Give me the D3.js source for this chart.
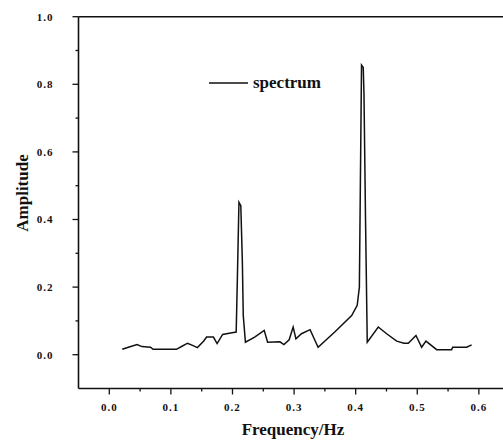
<!DOCTYPE html>
<html>
<head>
<meta charset="utf-8">
<script src="https://cdn.jsdelivr.net/npm/d3@7"></script>
<style>
  body { margin: 0; background: #fff; }
  text { font-family: "Liberation Serif", "DejaVu Serif", serif; font-weight: bold; fill: #111; }
</style>
</head>
<body>
<svg id="chart" width="503" height="448"></svg>
<script>
// spectrum trace
var freq = [0.021, 0.031, 0.045, 0.053, 0.067, 0.071, 0.109, 0.118, 0.127, 0.136, 0.143, 0.153, 0.158, 0.169, 0.175, 0.184, 0.197, 0.206,
  0.208, 0.2105, 0.2135, 0.216, 0.2175, 0.221, 0.236, 0.2515, 0.257, 0.277, 0.2835, 0.292, 0.2985, 0.303, 0.312, 0.326, 0.331, 0.339,
  0.366, 0.3935, 0.4025, 0.406, 0.4095, 0.4123, 0.4135, 0.416, 0.4188, 0.4367, 0.4503, 0.4666, 0.4784, 0.4854, 0.4979, 0.5071, 0.5141,
  0.5315, 0.5558, 0.5575, 0.5802, 0.5883];
var amp = [0.016, 0.022, 0.030, 0.024, 0.022, 0.016, 0.016, 0.025, 0.034, 0.027, 0.021, 0.040, 0.052, 0.052, 0.033, 0.060, 0.064, 0.067,
  0.230, 0.451, 0.441, 0.278, 0.116, 0.037, 0.052, 0.072, 0.037, 0.038, 0.030, 0.044, 0.082, 0.047, 0.062, 0.074, 0.054, 0.022,
  0.067, 0.116, 0.146, 0.200, 0.857, 0.850, 0.770, 0.400, 0.037, 0.082, 0.062, 0.040, 0.034, 0.034, 0.057, 0.022, 0.040,
  0.015, 0.015, 0.022, 0.022, 0.029];
var xTicks = [0.0, 0.1, 0.2, 0.3, 0.4, 0.5, 0.6];
var yTicks = [0.0, 0.2, 0.4, 0.6, 0.8, 1.0];
var seriesName = "spectrum";

var svg = d3.select("#chart");
var m = {left: 78.5, right: 503.5, top: 16.7, bottom: 388.5};

var x = d3.scaleLinear().domain([-0.05, 0.64]).range([m.left, m.right]);
var y = d3.scaleLinear().domain([-0.1, 1.0]).range([m.bottom, m.top]);

// frame: top line, bottom and left axes
svg.append("line").attr("x1", m.left).attr("x2", m.right).attr("y1", m.top).attr("y2", m.top)
  .attr("stroke", "#111").attr("stroke-width", 1.6);

var gX = svg.append("g").attr("transform", "translate(0," + m.bottom + ")");
gX.append("line").attr("x1", m.left).attr("x2", m.right).attr("stroke", "#111").attr("stroke-width", 1.6);
var xMinor = [0.05, 0.15, 0.25, 0.35, 0.45, 0.55];
gX.selectAll(".mx").data(xMinor).enter().append("line")
  .attr("x1", d => x(d)).attr("x2", d => x(d)).attr("y1", 0).attr("y2", 3)
  .attr("stroke", "#111").attr("stroke-width", 1.3);
gX.selectAll(".tx").data(xTicks).enter().append("line")
  .attr("x1", d => x(d)).attr("x2", d => x(d)).attr("y1", 0).attr("y2", 6)
  .attr("stroke", "#111").attr("stroke-width", 1.3);
gX.selectAll(".lx").data(xTicks).enter().append("text")
  .attr("x", d => x(d)).attr("y", 22).attr("text-anchor", "middle")
  .attr("font-size", 11).attr("letter-spacing", 1).text(d => d.toFixed(1));

var gY = svg.append("g").attr("transform", "translate(" + m.left + ",0)");
gY.append("line").attr("y1", m.top).attr("y2", m.bottom).attr("stroke", "#111").attr("stroke-width", 1.6);
gY.selectAll(".my").data([0.1, 0.3, 0.5, 0.7, 0.9]).enter().append("line")
  .attr("y1", d => y(d)).attr("y2", d => y(d)).attr("x1", 0).attr("x2", -3)
  .attr("stroke", "#111").attr("stroke-width", 1.3);
gY.selectAll(".ty").data(yTicks).enter().append("line")
  .attr("y1", d => y(d)).attr("y2", d => y(d)).attr("x1", 0).attr("x2", -6)
  .attr("stroke", "#111").attr("stroke-width", 1.3);
gY.selectAll(".ly").data(yTicks).enter().append("text")
  .attr("x", -25).attr("y", d => y(d)).attr("dy", "0.35em").attr("text-anchor", "end")
  .attr("font-size", 11).attr("letter-spacing", 1).text(d => d.toFixed(1));

// axis titles
svg.append("text").attr("x", 293).attr("y", 435).attr("text-anchor", "middle")
  .attr("font-size", 17).text("Frequency/Hz");
svg.append("text").attr("transform", "translate(28,193) rotate(-90)")
  .attr("text-anchor", "middle").attr("font-size", 17).text("Amplitude");

// series
var pts = freq.map((f, i) => [f, amp[i]]);
var line = d3.line().x(d => x(d[0])).y(d => y(d[1]));
svg.append("path").datum(pts).attr("d", line)
  .attr("fill", "none").attr("stroke", "#111").attr("stroke-width", 1.5)
  .attr("stroke-linejoin", "miter");

// legend
svg.append("line").attr("x1", 209).attr("x2", 248).attr("y1", 83).attr("y2", 83)
  .attr("stroke", "#111").attr("stroke-width", 1.5);
svg.append("text").attr("x", 253).attr("y", 88).attr("font-size", 17).text(seriesName);
</script>
</body>
</html>
